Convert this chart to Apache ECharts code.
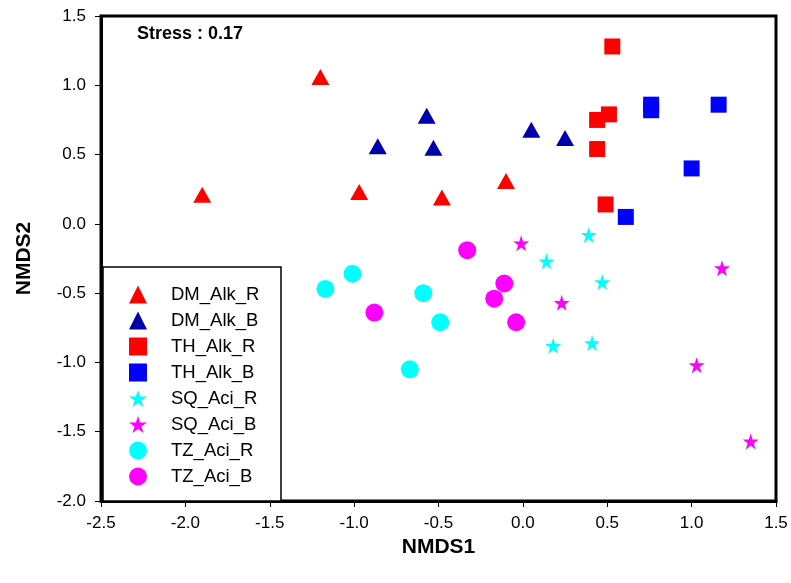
<!DOCTYPE html>
<html>
<head>
<meta charset="utf-8">
<script src="https://cdn.jsdelivr.net/npm/echarts@6/dist/echarts.min.js"></script>
<style>
    html, body { margin: 0; padding: 0; background: #fff; }
    #chartNmds { width: 791px; height: 583px; }
</style>
</head>
<body>
<div id="chartNmds"></div>
<script>
    // NMDS scores, one array per group: [NMDS1, NMDS2]
    var dmAlkR = [[-1.90, 0.21], [-1.20, 1.06], [-0.97, 0.23], [-0.48, 0.19], [-0.10, 0.31]];
    var dmAlkB = [[-0.86, 0.56], [-0.57, 0.78], [-0.53, 0.55], [0.05, 0.68], [0.25, 0.62]];
    var thAlkR = [[0.53, 1.28], [0.51, 0.79], [0.44, 0.75], [0.44, 0.54], [0.49, 0.14]];
    var thAlkB = [[0.76, 0.86], [0.76, 0.82], [1.16, 0.86], [1.00, 0.40], [0.61, 0.05]];
    var sqAciR = [[0.39, -0.08], [0.14, -0.27], [0.47, -0.42], [0.18, -0.88], [0.41, -0.86]];
    var sqAciB = [[-0.01, -0.14], [0.23, -0.57], [1.18, -0.32], [1.03, -1.02], [1.35, -1.57]];
    var tzAciR = [[-1.17, -0.47], [-1.01, -0.36], [-0.59, -0.50], [-0.49, -0.71], [-0.67, -1.05]];
    var tzAciB = [[-0.33, -0.19], [-0.88, -0.64], [-0.11, -0.43], [-0.17, -0.54], [-0.04, -0.71]];

    var groupNames = ['DM_Alk_R', 'DM_Alk_B', 'TH_Alk_R', 'TH_Alk_B', 'SQ_Aci_R', 'SQ_Aci_B', 'TZ_Aci_R', 'TZ_Aci_B'];
    var groupData = [dmAlkR, dmAlkB, thAlkR, thAlkB, sqAciR, sqAciB, tzAciR, tzAciB];
    var stressValue = '0.17';

    var star = 'path://M50,0 L61.17,34.63 L97.55,34.55 L68.07,55.87 L79.39,90.45 L50,69 L20.61,90.45 L31.93,55.87 L2.45,34.55 L38.83,34.63 Z';
    var groupStyle = [
        { color: '#ff0000', symbol: 'triangle', size: [18, 16] },
        { color: '#0000aa', symbol: 'triangle', size: [18, 16] },
        { color: '#ff0000', symbol: 'rect', size: [16, 16] },
        { color: '#0000ff', symbol: 'rect', size: [16, 16] },
        { color: '#00ffff', symbol: star, size: [16, 16] },
        { color: '#ff00ff', symbol: star, size: [16, 16] },
        { color: '#00ffff', symbol: 'circle', size: [18, 18] },
        { color: '#ff00ff', symbol: 'circle', size: [18, 18] }
    ];

    var font = "'Liberation Sans', Arial, sans-serif";

    var series = [];
    for (var i = 0; i < groupNames.length; i++) {
        series.push({
            name: groupNames[i],
            type: 'scatter',
            symbol: groupStyle[i].symbol,
            symbolSize: groupStyle[i].size,
            itemStyle: { color: groupStyle[i].color, opacity: 1 },
            data: groupData[i]
        });
    }

    var chartNmds = echarts.init(document.getElementById('chartNmds'));
    chartNmds.setOption({
        animation: false,
        backgroundColor: '#fff',
        title: {
            text: 'Stress : ' + stressValue,
            left: 137,
            top: 25,
            padding: 0,
            textStyle: { fontFamily: font, fontSize: 18, fontWeight: 'bold', color: '#000' }
        },
        grid: {
            left: 101, right: 15, top: 16, bottom: 82,
            show: true,
            borderColor: '#000',
            borderWidth: 3
        },
        graphic: [{
            type: 'rect',
            z: 3,
            shape: { x: 103, y: 267, width: 178, height: 234 },
            style: { fill: '#fff', stroke: '#000', lineWidth: 1.5 }
        }],
        legend: {
            orient: 'vertical',
            left: 129,
            top: 285,
            padding: 0,
            z: 5,
            itemWidth: 18,
            itemHeight: 18,
            itemGap: 7,
            data: groupNames,
            textStyle: { fontFamily: font, fontSize: 18.5, color: '#000', padding: [0, 0, 0, 19] }
        },
        xAxis: {
            type: 'value',
            min: -2.5,
            max: 1.5,
            interval: 0.5,
            name: 'NMDS1',
            nameLocation: 'middle',
            nameGap: 34,
            nameTextStyle: { fontFamily: font, fontSize: 21, fontWeight: 'bold', color: '#000' },
            axisLine: { onZero: false, lineStyle: { color: '#000', width: 3 } },
            axisTick: { length: 6, lineStyle: { color: '#000', width: 1 } },
            axisLabel: {
                fontFamily: font, fontSize: 17, color: '#000', margin: 14,
                formatter: function (v) { return v.toFixed(1); }
            },
            splitLine: { show: false }
        },
        yAxis: {
            type: 'value',
            min: -2,
            max: 1.5,
            interval: 0.5,
            name: 'NMDS2',
            nameLocation: 'middle',
            nameGap: 66,
            nameTextStyle: { fontFamily: font, fontSize: 21, fontWeight: 'bold', color: '#000' },
            axisLine: { onZero: false, lineStyle: { color: '#000', width: 3 } },
            axisTick: { length: 6, lineStyle: { color: '#000', width: 1 } },
            axisLabel: {
                fontFamily: font, fontSize: 17, color: '#000', margin: 15,
                formatter: function (v) { return v.toFixed(1); }
            },
            splitLine: { show: false }
        },
        series: series
    });
</script>
</body>
</html>
